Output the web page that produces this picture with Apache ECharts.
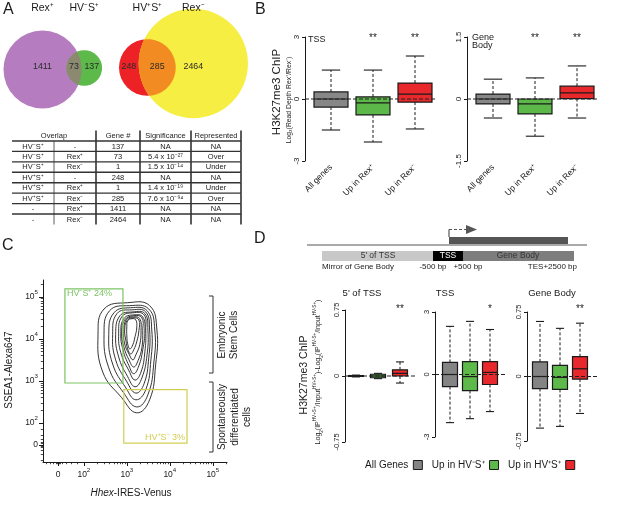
<!DOCTYPE html>
<html><head><meta charset="utf-8">
<script src="https://cdn.jsdelivr.net/npm/echarts@6.0.0/dist/echarts.min.js"></script>
<style>html,body{margin:0;padding:0;background:#fff}#c{width:617px;height:507px}</style>
</head><body><div id="c"></div>
<script>
// ================= DATA =================
// Panel A - Venn diagrams: [only first set, overlap, only second set]
const vennSets1 = ['Rex⁺', 'HV⁻S⁺'];
const vennCounts1 = [1411, 73, 137];
const vennSets2 = ['HV⁺S⁺', 'Rex⁻'];
const vennCounts2 = [248, 285, 2464];

// Panel A - table
const tableHeader = ['Overlap', 'Gene #', 'Significance', 'Represented'];
const tableSetA = ['HV⁻S⁺', 'HV⁻S⁺', 'HV⁻S⁺', 'HV⁺S⁺', 'HV⁺S⁺', 'HV⁺S⁺', '-', '-'];
const tableSetB = ['-', 'Rex⁺', 'Rex⁻', '-', 'Rex⁺', 'Rex⁻', 'Rex⁺', 'Rex⁻'];
const tableGenes = [137, 73, 1, 248, 1, 285, 1411, 2464];
const tableSignif = ['NA', '5.4 x 10⁻²⁷', '1.5 x 10⁻¹⁴', 'NA', '1.4 x 10⁻¹⁹', '7.6 x 10⁻⁹⁴', 'NA', 'NA'];
const tableRepr = ['NA', 'Over', 'Under', 'NA', 'Under', 'Over', 'NA', 'NA'];

// Panel B - boxplots [low whisker, Q1, median, Q3, high whisker]
const bCategories = ['All genes', 'Up in Rex⁺', 'Up in Rex⁻'];
const bTSS = [[-1.50, -0.39, 0, 0.34, 1.40], [-2.08, -0.77, -0.19, 0.10, 1.40], [-1.45, -0.15, 0.24, 0.77, 2.08]];
const bGeneBody = [[-0.46, -0.12, 0, 0.12, 0.48], [-0.90, -0.36, -0.12, 0, 0.51], [-0.46, 0.01, 0.15, 0.31, 0.80]];
const bStars = ['', '**', '**'];

// Panel C - flow cytometry (display units = decades on biexponential scale)
const cXTickPos = [1.40, 2, 3, 4, 5];
const cXTickLabels = ['0', '10^2', '10^3', '10^4', '10^5'];
const cYTickPos = [1.48, 2, 3, 4, 5];
const cYTickLabels = ['0', '10^2', '10^3', '10^4', '10^5'];
const gateLabels = ['HV⁻S⁺ 24%', 'HV⁺S⁻ 3%'];
const gateBounds = [[1.56, 2.95, 2.91, 5.19], [2.93, 1.52, 4.40, 2.79]]; // xmin, ymin, xmax, ymax
const contourLevels = [
  [[3.02,4.86],[3.53,4.79],[3.70,4.21],[3.67,3.38],[3.53,2.55],[3.23,2.24],[2.88,2.60],[2.44,3.21],[2.33,4.10],[2.47,4.71]],
  [[3.07,4.79],[3.51,4.71],[3.65,4.21],[3.63,3.45],[3.49,2.67],[3.23,2.38],[2.93,2.71],[2.58,3.31],[2.47,4.10],[2.60,4.67]],
  [[3.09,4.74],[3.47,4.67],[3.58,4.21],[3.56,3.50],[3.44,2.79],[3.21,2.55],[2.98,2.83],[2.67,3.40],[2.58,4.10],[2.70,4.62]],
  [[3.12,4.69],[3.44,4.64],[3.53,4.21],[3.51,3.55],[3.40,2.93],[3.21,2.71],[3.00,2.98],[2.74,3.50],[2.67,4.10],[2.77,4.60]],
  [[3.14,4.64],[3.42,4.60],[3.49,4.21],[3.47,3.62],[3.35,3.07],[3.19,2.86],[3.02,3.10],[2.81,3.57],[2.74,4.10],[2.84,4.55]],
  [[3.14,4.62],[3.40,4.57],[3.44,4.21],[3.42,3.69],[3.33,3.21],[3.19,3.02],[3.05,3.24],[2.86,3.67],[2.81,4.12],[2.88,4.52]],
  [[3.16,4.57],[3.37,4.52],[3.42,4.19],[3.37,3.74],[3.28,3.36],[3.16,3.17],[3.05,3.36],[2.91,3.74],[2.86,4.12],[2.93,4.48]],
  [[3.16,4.55],[3.35,4.50],[3.37,4.19],[3.35,3.79],[3.26,3.48],[3.16,3.33],[3.05,3.50],[2.93,3.81],[2.88,4.14],[2.95,4.45]],
  [[3.14,4.52],[3.30,4.48],[3.33,4.19],[3.30,3.86],[3.21,3.62],[3.14,3.50],[3.05,3.64],[2.95,3.88],[2.93,4.17],[2.98,4.45]],
  [[3.14,4.50],[3.28,4.45],[3.28,4.19],[3.23,3.93],[3.16,3.74],[3.09,3.64],[3.02,3.76],[2.98,3.95],[2.95,4.19],[3.00,4.43]],
  [[3.12,4.48],[3.21,4.45],[3.23,4.26],[3.19,4.05],[3.14,3.86],[3.07,3.76],[3.02,3.88],[3.00,4.07],[3.00,4.29],[3.02,4.43]]
];

// Panel D - boxplots
const dCategories = ['All Genes', 'Up in HV⁻S⁺', 'Up in HV⁺S⁺'];
const d5TSS = [[-0.01, -0.005, 0, 0.005, 0.01], [-0.03, -0.02, 0, 0.02, 0.03], [-0.08, 0.0, 0.03, 0.07, 0.16]];
const dTSS = [[-2.31, -0.58, 0, 0.58, 2.31], [-2.12, -0.77, -0.10, 0.62, 2.55], [-1.78, -0.48, 0.10, 0.62, 2.16]];
const dGeneBody = [[-0.60, -0.14, 0, 0.17, 0.64], [-0.58, -0.15, -0.01, 0.13, 0.56], [-0.43, -0.03, 0.09, 0.23, 0.62]];
const d5Stars = ['', '', '**'];
const dTSSStars = ['', '', '*'];
const dGBStars = ['', '', '**'];

// ================= STYLE / LAYOUT =================
const FONT = '"Liberation Sans", Arial, Helvetica, sans-serif';
const INK = '#1a1a1a';
const bColors = ['#878787', '#5cb848', '#e9282c'];
const dColors = ['#848484', '#5db94a', '#e8282c'];
const tableCols = [12, 54, 96, 140, 191, 241];

function txt(x, y, text, o) {
  o = o || {};
  return { type: 'text', x: x, y: y, rotation: o.rot || 0, z: 10,
    style: { text: text, fill: o.color || INK, fontSize: o.size || 9, fontFamily: FONT,
      fontStyle: o.italic ? 'italic' : 'normal', fontWeight: o.bold ? 'bold' : 'normal',
      align: o.align || 'center', verticalAlign: o.va || 'middle',
      lineHeight: o.lh, rich: o.rich } };
}
function ln(x1, y1, x2, y2, w, c, dash) {
  return { type: 'line', shape: { x1: x1, y1: y1, x2: x2, y2: y2 },
    style: { stroke: c || INK, lineWidth: w || 1, lineDash: dash || null } };
}
function supRich(base) {
  return { b: { fontSize: base, fontFamily: FONT, color: INK, lineHeight: base + 6 },
           s: { fontSize: base * 0.72, fontFamily: FONT, color: INK, verticalAlign: 'top', lineHeight: base * 0.8 } };
}
function tickFmt(pos, labels) {
  return function (v) {
    let k = 0, best = 1e9;
    pos.forEach((p, i) => { const d = Math.abs(p - v); if (d < best) { best = d; k = i; } });
    const s = labels[k].split('^');
    return s.length > 1 ? '{b|' + s[0] + '}{s|' + s[1] + '}' : '{b|' + s[0] + '}';
  };
}

// ---- Venn renderer ----
function vennRender(counts, sets, k, lay, colors) {
  return function (params, api) {
    const tA = counts[0] + counts[1], tB = counts[1] + counts[2];
    const rA = api.size([k * Math.pow(tA, 0.4), 0])[0];
    const rB = api.size([k * Math.pow(tB, 0.4), 0])[0];
    const left = api.coord([lay.left, 0])[0];
    const A = [left + rA, api.coord([0, lay.cyA])[1]];
    const B = [A[0] + rA + rB - api.size([lay.overlap, 0])[0], api.coord([0, lay.cyB])[1]];
    const inside = (p, c, r) => Math.hypot(p[0] - c[0], p[1] - c[1]) <= r + 1e-6;
    const arc = (c, r, o, ro) => {
      const base = Math.atan2(o[1] - c[1], o[0] - c[0]);
      const out = [];
      for (let j = 0; j <= 240; j++) {
        const t = base - Math.PI + j * 2 * Math.PI / 240;
        const p = [c[0] + r * Math.cos(t), c[1] + r * Math.sin(t)];
        if (inside(p, o, ro)) out.push(p);
      }
      return out;
    };
    const lens = arc(A, rA, B, rB).concat(arc(B, rB, A, rA));
    const lensL = B[0] - rB, lensR = A[0] + rA;
    const bigA = rA >= rB;
    const xA = bigA ? A[0] : (A[0] - rA + lensL) / 2;
    const xB = bigA ? (lensR + B[0] + rB) / 2 : B[0];
    const yNum = api.coord([0, lay.numY])[1];
    const yLab = api.coord([0, lay.labY])[1];
    const numStyle = (x, t) => ({ type: 'text', x: x, y: yNum, z2: 5,
      style: { text: String(t), fill: '#2a2a2a', fontSize: 8.8, fontFamily: FONT, align: 'center', verticalAlign: 'middle' } });
    const labStyle = (x, t) => ({ type: 'text', x: x, y: yLab, z2: 5,
      style: { text: t, fill: INK, fontSize: 10.5, fontFamily: FONT, align: 'center', verticalAlign: 'middle' } });
    return { type: 'group', children: [
      { type: 'circle', shape: { cx: A[0], cy: A[1], r: rA }, style: { fill: colors[0] } },
      { type: 'circle', shape: { cx: B[0], cy: B[1], r: rB }, style: { fill: colors[2] } },
      { type: 'polygon', shape: { points: lens }, style: { fill: colors[1] } },
      numStyle(xA, counts[0]), numStyle((lensL + lensR) / 2, counts[1]), numStyle(xB, counts[2]),
      labStyle(A[0], sets[0]), labStyle(B[0], sets[1])
    ] };
  };
}

// ---- Table renderer ----
function tableRender(params, api) {
  const r = api.value(1);
  const cy = api.coord([0, r])[1];
  const h = api.size([0, 1])[1];
  const top = cy - h / 2, bot = cy + h / 2;
  const X = e => api.coord([e, r])[0];
  const mid = (a, b) => (X(tableCols[a]) + X(tableCols[b])) / 2;
  let cells;
  if (r === 0) {
    cells = [[mid(0, 2), tableHeader[0]], [mid(2, 3), tableHeader[1]], [mid(3, 4), tableHeader[2]], [mid(4, 5), tableHeader[3]]];
  } else {
    const i = r - 1;
    cells = [[mid(0, 1), tableSetA[i]], [mid(1, 2), tableSetB[i]], [mid(2, 3), String(tableGenes[i])],
             [mid(3, 4), tableSignif[i]], [mid(4, 5), tableRepr[i]]];
  }
  const ch = cells.map(c => ({ type: 'text', x: c[0], y: cy + 0.3,
    style: { text: c[1], fill: '#222', fontSize: 7.5, fontFamily: FONT, align: 'center', verticalAlign: 'middle' } }));
  if (r < 8) ch.push(ln(X(tableCols[0]), bot, X(tableCols[5]), bot, 1.4, '#333'));
  const v = r === 0 ? [2, 3, 4, 5] : [1, 2, 3, 4, 5];
  v.forEach(j => ch.push(ln(X(tableCols[j]), top, X(tableCols[j]), bot, j === 1 ? 0.8 : 1.6, '#333')));
  return { type: 'group', children: ch };
}

// ---- Box renderer ----
function boxRender(o) {
  return function (params, api) {
    const i = api.value(0);
    const P = d => api.coord([i, api.value(d)]);
    const lo = P(1), q1 = P(2), md = P(3), q3 = P(4), hi = P(5);
    const cx = lo[0], hw = o.boxW / 2, cw = o.boxW * 0.27;
    const dash = [3, 2];
    const ch = [
      ln(cx, q3[1], cx, hi[1], 1, INK, dash),
      ln(cx, q1[1], cx, lo[1], 1, INK, dash),
      ln(cx - cw, hi[1], cx + cw, hi[1], 1.1),
      ln(cx - cw, lo[1], cx + cw, lo[1], 1.1),
      { type: 'rect', shape: { x: cx - hw, y: q3[1], width: o.boxW, height: Math.max(q1[1] - q3[1], 0.8) },
        style: { fill: o.colors[i], stroke: INK, lineWidth: 1.2 } },
      ln(cx - hw, md[1], cx + hw, md[1], 1.2)
    ];
    if (o.stars && o.stars[i]) {
      ch.push({ type: 'text', x: cx, y: params.coordSys.y + o.starDy,
        style: { text: o.stars[i], fill: '#222', fontSize: 10, fontFamily: FONT, align: 'center', verticalAlign: 'middle' } });
    }
    return { type: 'group', children: ch };
  };
}
function zeroRender(extL, extR) {
  return function (params, api) {
    const y = api.coord([0, 0])[1];
    const cs = params.coordSys;
    return ln(cs.x - extL, y, cs.x + cs.width + extR, y, 1, '#222', [4, 2]);
  };
}

// ---- Contour / gate renderers ----
function contourRender(params, api) {
  const pts = contourLevels[api.value(2)].map(p => api.coord(p));
  return { type: 'polygon', shape: { points: pts, smooth: 0.45 },
    style: { fill: 'none', stroke: '#2a2a2a', lineWidth: 0.95 } };
}
const gateColors = ['#7dc364', '#d2ce55'];
function gateRender(params, api) {
  const i = api.value(4);
  const tl = api.coord([api.value(0), api.value(3)]);
  const br = api.coord([api.value(2), api.value(1)]);
  const lab = i === 0
    ? { x: tl[0] + 2, y: tl[1] + 5, align: 'left' }
    : { x: br[0] - 2, y: br[1] - 6, align: 'right' };
  return { type: 'group', children: [
    { type: 'rect', shape: { x: tl[0], y: tl[1], width: br[0] - tl[0], height: br[1] - tl[1] },
      style: { fill: 'none', stroke: gateColors[i], lineWidth: 1.2 } },
    { type: 'text', x: lab.x, y: lab.y,
      style: { text: gateLabels[i], fill: gateColors[i], fontSize: 9, fontFamily: FONT, align: lab.align, verticalAlign: 'middle' } }
  ] };
}

// minor ticks for the biexponential axes
const decadeMinor = [];
[2, 3, 4].forEach(n => { for (let k = 2; k <= 9; k++) decadeMinor.push(n + Math.log10(k)); });
decadeMinor.push(5 + Math.log10(2));
const xMinorTicks = decadeMinor.concat([1.12, 1.22, 1.30, 1.35, 1.38, 1.42, 1.45, 1.50, 1.58, 1.70, 1.85]);
const yMinorTicks = decadeMinor.concat([1.12, 1.25, 1.36, 1.42, 1.45, 1.51, 1.54, 1.60, 1.70, 1.85]);

// ================= OPTION =================
const hiddenAx = (g, extra) => Object.assign({ gridIndex: g, show: false }, extra);
const boxY = (g, mn, mx, iv, size, off) => ({
  gridIndex: g, type: 'value', min: mn, max: mx, interval: iv, offset: off || 0,
  axisLine: { show: true, lineStyle: { color: INK, width: 1 } },
  axisTick: { show: true, length: 3, lineStyle: { color: INK } },
  axisLabel: { rotate: 90, fontSize: size, color: INK, fontFamily: FONT, margin: 4 },
  splitLine: { show: false }
});
const catX = (g, showLabels) => ({
  gridIndex: g, type: 'category', data: showLabels ? bCategories : dCategories,
  axisLine: { show: false }, axisTick: { show: false },
  axisLabel: { show: !!showLabels, rotate: 45, interval: 0, fontSize: 8.5, color: INK, fontFamily: FONT, margin: 5 },
  splitLine: { show: false }
});

const grids = [
  { left: 0, top: 0, width: 260, height: 130 },        // 0 venn
  { left: 0, top: 130.5, width: 260, height: 94 },      // 1 table
  { left: 310, top: 37, width: 126, height: 124 },      // 2 B TSS
  { left: 472, top: 37, width: 126, height: 124 },      // 3 B gene body
  { left: 43, top: 280, width: 184, height: 182 },      // 4 C
  { left: 345, top: 310, width: 66, height: 132 },      // 5 D 5' TSS
  { left: 440, top: 312, width: 60, height: 125 },      // 6 D TSS
  { left: 530, top: 312, width: 60, height: 129 }       // 7 D gene body
].map(g => Object.assign({ containLabel: false, outerBoundsMode: 'none' }, g));

// axis index per grid (C has two axes: major + minor ticks)
const AX = { venn: 0, table: 1, bTSS: 2, bGB: 3, c: 4, cMinor: 5, d5: 6, dTSS: 7, dGB: 8 };
const xAxes = [
  hiddenAx(0, { type: 'value', min: 0, max: 260 }),
  hiddenAx(1, { type: 'value', min: 0, max: 260 }),
  catX(2, true), catX(3, true),
  { gridIndex: 4, type: 'value', min: 1.05, max: 5.33,
    axisLine: { show: true, lineStyle: { color: INK, width: 1 } },
    axisTick: { show: true, length: 4, customValues: cXTickPos, lineStyle: { color: INK } },
    axisLabel: { customValues: cXTickPos, formatter: tickFmt(cXTickPos, cXTickLabels), rich: supRich(8.5), margin: 5 },
    splitLine: { show: false } },
  { gridIndex: 4, type: 'value', min: 1.05, max: 5.33, position: 'bottom',
    axisLine: { show: false }, axisLabel: { show: false }, splitLine: { show: false },
    axisTick: { show: true, length: 2.2, customValues: xMinorTicks, lineStyle: { color: INK, width: 0.8 } } },
  catX(5, false), catX(6, false), catX(7, false)
];
const yAxes = [
  hiddenAx(0, { type: 'value', min: 0, max: 130, inverse: true }),
  hiddenAx(1, { type: 'category', data: ['h', 'r1', 'r2', 'r3', 'r4', 'r5', 'r6', 'r7', 'r8'], inverse: true }),
  boxY(2, -3, 3, 3, 8, 5),
  boxY(3, -1.5, 1.5, 1.5, 8, 5),
  { gridIndex: 4, type: 'value', min: 1.07, max: 5.40,
    axisLine: { show: true, lineStyle: { color: INK, width: 1 } },
    axisTick: { show: true, length: 4, customValues: cYTickPos, lineStyle: { color: INK } },
    axisLabel: { customValues: cYTickPos, formatter: tickFmt(cYTickPos, cYTickLabels), rich: supRich(8.5), margin: 5 },
    splitLine: { show: false } },
  { gridIndex: 4, type: 'value', min: 1.07, max: 5.40, position: 'left',
    axisLine: { show: false }, axisLabel: { show: false }, splitLine: { show: false },
    axisTick: { show: true, length: 2.2, customValues: yMinorTicks, lineStyle: { color: INK, width: 0.8 } } },
  boxY(5, -0.75, 0.75, 0.75, 7.5, 0),
  boxY(6, -3, 3, 3, 7.5, 5),
  boxY(7, -0.75, 0.75, 0.75, 7.5, 3)
];

const series = [];
series.push({ type: 'custom', xAxisIndex: AX.venn, yAxisIndex: AX.venn, data: [[0, 0]], clip: false,
  renderItem: vennRender(vennCounts1, vennSets1, 2.1, { left: 3.5, overlap: 15, cyA: 69.5, cyB: 68, numY: 67, labY: 8 },
    ['#b57dbf', '#8b8a70', '#5cb94a']) });
series.push({ type: 'custom', xAxisIndex: AX.venn, yAxisIndex: AX.venn, data: [[0, 0]], clip: false,
  renderItem: vennRender(vennCounts2, vennSets2, 2.3, { left: 119, overlap: 37, cyA: 67.5, cyB: 63.5, numY: 67, labY: 8 },
    ['#ec2227', '#f28b22', '#f6ee42']) });
series.push({ type: 'custom', xAxisIndex: AX.table, yAxisIndex: AX.table, clip: false,
  data: [0, 1, 2, 3, 4, 5, 6, 7, 8].map(r => [0, r]), encode: { x: 0, y: 1 }, renderItem: tableRender });

// Panel B
[[AX.bTSS, bTSS, 5, 1], [AX.bGB, bGeneBody, 5, 1]].forEach(([a, vals, eL, eR]) => {
  series.push({ type: 'custom', xAxisIndex: a, yAxisIndex: a, clip: false,
    data: vals.map((d, i) => [i].concat(d)), encode: { x: 0, y: [1, 2, 3, 4, 5] },
    renderItem: boxRender({ boxW: 34, colors: bColors, stars: bStars, starDy: 1.5 }) });
  series.push({ type: 'custom', xAxisIndex: a, yAxisIndex: a, z: 5, clip: false, data: [[0, 0]],
    renderItem: zeroRender(eL, eR) });
});

// Panel C
series.push({ type: 'custom', xAxisIndex: AX.c, yAxisIndex: AX.c, clip: false,
  data: contourLevels.map((c, i) => [c[0][0], c[0][1], i]), renderItem: contourRender });
series.push({ type: 'custom', xAxisIndex: AX.c, yAxisIndex: AX.c, clip: false, z: 4,
  data: gateBounds.map((b, i) => b.concat([i])), renderItem: gateRender });

// Panel D
[[AX.d5, d5TSS, d5Stars, 0, 4, -0.5], [AX.dTSS, dTSS, dTSSStars, 5, 5, -2.5], [AX.dGB, dGeneBody, dGBStars, 3, 7, -2.5]].forEach(([a, vals, stars, eL, eR, sdy]) => {
  vals.forEach((d, i) => {
    series.push({ type: 'custom', name: dCategories[i], xAxisIndex: a, yAxisIndex: a, clip: false,
      itemStyle: { color: dColors[i], borderColor: INK, borderWidth: 1 },
      data: [[i].concat(d)], encode: { x: 0, y: [1, 2, 3, 4, 5] },
      renderItem: boxRender({ boxW: 15, colors: dColors, stars: stars, starDy: sdy }) });
  });
  series.push({ type: 'custom', xAxisIndex: a, yAxisIndex: a, z: 5, clip: false, data: [[0, 0]],
    renderItem: zeroRender(eL, eR) });
});

const R90 = Math.PI / 2;
const dLogRich = {
  n: { fontSize: 7, fontFamily: FONT, color: INK, lineHeight: 12 },
  p: { fontSize: 4.6, fontFamily: FONT, color: INK, verticalAlign: 'top', lineHeight: 5 },
  u: { fontSize: 4.6, fontFamily: FONT, color: INK, verticalAlign: 'bottom', lineHeight: 5 }
};
const graphics = [
  txt(3, 10, 'A', { size: 16, align: 'left' }),
  txt(255, 10, 'B', { size: 16, align: 'left' }),
  txt(2, 246, 'C', { size: 16, align: 'left' }),
  txt(254, 239, 'D', { size: 16, align: 'left' }),
  // B titles
  txt(277, 92, 'H3K27me3 ChIP', { size: 11.5, rot: R90 }),
  txt(289, 100, 'Log₂(Read Depth Rex⁺/Rex⁻)', { size: 6.8, rot: R90 }),
  txt(308, 40, 'TSS', { size: 9, align: 'left' }),
  txt(472, 42, 'Gene\nBody', { size: 9, align: 'left', lh: 8 }),
  // D gene diagram
  ln(307, 245, 587, 245, 1, '#555'),
  { type: 'rect', shape: { x: 449, y: 237, width: 119, height: 7 }, style: { fill: '#555' } },
  ln(449, 237, 449, 229.5, 1.2, '#555'),
  ln(449, 229.5, 467, 229.5, 1.2, '#555', [3, 2]),
  { type: 'polygon', shape: { points: [[466, 225], [466, 234], [477, 229.5]] }, style: { fill: '#555' } },
  { type: 'rect', shape: { x: 322, y: 251, width: 111, height: 10 }, style: { fill: '#c8c8c8' } },
  { type: 'rect', shape: { x: 433, y: 251, width: 30, height: 10 }, style: { fill: '#000' } },
  { type: 'rect', shape: { x: 463, y: 251, width: 111, height: 10 }, style: { fill: '#7d7d7d' } },
  txt(378, 256, "5' of TSS", { size: 8.5, color: '#333' }),
  txt(448, 256, 'TSS', { size: 8.5, color: '#fff' }),
  txt(518, 256, 'Gene Body', { size: 8.5, color: '#333' }),
  txt(322, 267, 'Mirror of Gene Body', { size: 8, align: 'left' }),
  txt(433, 267, '-500 bp', { size: 8 }),
  txt(468, 267, '+500 bp', { size: 8 }),
  txt(577, 267, 'TES+2500 bp', { size: 8, align: 'right' }),
  // D subplot titles and y titles
  txt(362, 293, "5' of TSS", { size: 9.5 }),
  txt(445, 293, 'TSS', { size: 9.5 }),
  txt(552, 293, 'Gene Body', { size: 9.5 }),
  txt(304, 375, 'H3K27me3 ChIP', { size: 10.5, rot: R90 }),
  txt(318, 372, '{n|Log}{u|2}{n|(IP}{p|HV+S+}{n|/Input}{p|HV+S+}{n|)-Log}{u|2}{n|(IP}{p|HV-S+}{n|/Input}{p|HV-S+}{n|)}',
    { rot: R90, rich: dLogRich }),
  // C titles and brackets
  txt(9, 370, 'SSEA1-Alexa647', { size: 10, rot: R90 }),
  txt(131, 493, '{i|Hhex}{n|-IRES-Venus}', { rich: {
    i: { fontSize: 10, fontFamily: FONT, fontStyle: 'italic', color: INK },
    n: { fontSize: 10, fontFamily: FONT, color: INK } } }),
  { type: 'polyline', shape: { points: [[209, 296], [213, 296], [213, 373], [209, 373]] }, style: { stroke: '#333', lineWidth: 1, fill: null } },
  { type: 'polyline', shape: { points: [[209, 382], [213, 382], [213, 452], [209, 452]] }, style: { stroke: '#333', lineWidth: 1, fill: null } },
  txt(228, 335, 'Embryonic\nStem Cells', { size: 10, rot: R90, lh: 12 }),
  txt(235, 417, 'Spontaneously\ndifferentiated\ncells', { size: 10, rot: R90, lh: 12.5 })
];

const option = {
  animation: false,
  backgroundColor: '#fff',
  textStyle: { fontFamily: FONT },
  grid: grids,
  xAxis: xAxes,
  yAxis: yAxes,
  legend: { data: dCategories, left: 360, top: 455, itemWidth: 9, itemHeight: 9, itemGap: 9,
    align: 'right', icon: 'rect', selectedMode: false,
    itemStyle: { borderColor: INK, borderWidth: 1 },
    textStyle: { fontSize: 10, color: INK, fontFamily: FONT } },
  series: series,
  graphic: { elements: graphics }
};
const chart = echarts.init(document.getElementById('c'), null, { renderer: 'canvas' });
chart.setOption(option);
</script></body></html>
